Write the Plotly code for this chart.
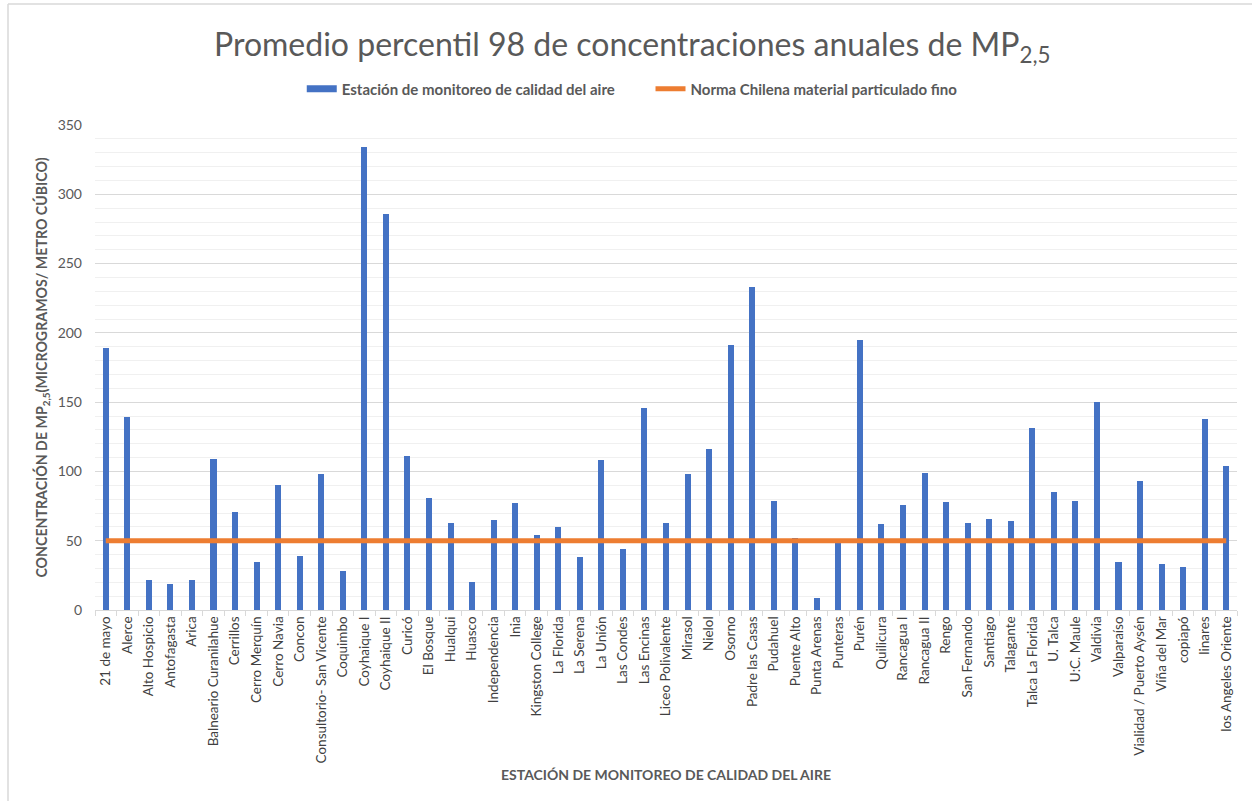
import plotly.graph_objects as go

# Estaciones de monitoreo (eje X)
estaciones = [
    "21 de mayo", "Alerce", "Alto Hospicio", "Antofagasta", "Arica",
    "Balneario Curanilahue", "Cerrillos", "Cerro Merquín", "Cerro Navia", "Concon",
    "Consultorio- San Vicente", "Coquimbo", "Coyhaique I", "Coyhaique II", "Curicó",
    "El Bosque", "Hualqui", "Huasco", "Independencia", "Inia",
    "Kingston College", "La Florida", "La Serena", "La Unión", "Las Condes",
    "Las Encinas", "Liceo Polivalente", "Mirasol", "Nielol", "Osorno",
    "Padre las Casas", "Pudahuel", "Puente Alto", "Punta Arenas", "Punteras",
    "Purén", "Quilicura", "Rancagua I", "Rancagua II", "Rengo",
    "San Fernando", "Santiago", "Talagante", "Talca La Florida", "U. Talca",
    "U:C. Maule", "Valdivia", "Valparaíso", "Vialidad / Puerto Aysén", "Viña del Mar",
    "copiapó", "linares", "los Angeles Oriente",
]

# Promedio percentil 98 de MP2,5 por estación
percentil_98 = [
    189, 139, 22, 19, 22,
    109, 71, 35, 90, 39,
    98, 28, 334, 286, 111,
    81, 63, 20, 65, 77,
    54, 60, 38, 108, 44,
    146, 63, 98, 116, 191,
    233, 79, 52, 9, 49,
    195, 62, 76, 99, 78,
    63, 66, 64, 131, 85,
    79, 150, 35, 93, 33,
    31, 138, 104,
]

# Norma chilena para material particulado fino
NORMA_CHILENA = 50
norma = [NORMA_CHILENA] * len(estaciones)

y_ticks = [0, 50, 100, 150, 200, 250, 300, 350]

AZUL = "#4472C4"
NARANJA = "#ED7D31"
GRIS_TEXTO = "#595959"
FUENTE = "Lato"

fig = go.Figure()

fig.add_trace(go.Bar(
    x=estaciones, y=percentil_98,
    marker=dict(color=AZUL, line=dict(width=0)),
    width=0.28,
    name="Estación de monitoreo de calidad del aire",
    legendgroup="estaciones",
    showlegend=False,
))

fig.add_trace(go.Scatter(
    x=estaciones, y=norma,
    mode="lines",
    line=dict(color=NARANJA, width=5),
    name="Norma Chilena material particulado fino",
    legendgroup="norma",
    showlegend=False,
))

# Entradas de leyenda con símbolo de barra ancha
fig.add_trace(go.Scatter(
    x=[None], y=[None], mode="lines",
    line=dict(color=AZUL, width=7),
    name="<b>Estación de monitoreo de calidad del aire</b>" + "&nbsp;" * 8,
    legendgroup="estaciones",
))
fig.add_trace(go.Scatter(
    x=[None], y=[None], mode="lines",
    line=dict(color=NARANJA, width=5),
    name="<b>Norma Chilena material particulado fino</b>",
    legendgroup="norma",
))

fig.update_layout(
    width=1252, height=801,
    margin=dict(l=95, r=15, t=125, b=191, autoexpand=False),
    paper_bgcolor="white",
    plot_bgcolor="white",
    font=dict(family=FUENTE, color=GRIS_TEXTO),
    bargap=0,
    title=dict(
        text="Promedio percentil 98 de concentraciones anuales de MP<sub>2,5</sub>",
        font=dict(family=FUENTE, size=32, color=GRIS_TEXTO),
        x=0.505, xanchor="center", xref="container",
        y=1 - 45 / 801, yanchor="middle", yref="container",
    ),
    legend=dict(
        orientation="h",
        x=0.505, xanchor="center", xref="container",
        y=1 - 89 / 801, yanchor="middle", yref="container",
        font=dict(family=FUENTE, size=15, color=GRIS_TEXTO),
        itemwidth=30,
        tracegroupgap=0,
    ),
    xaxis=dict(
        type="category",
        range=[-0.5, len(estaciones) - 0.5],
        tickangle=-90,
        tickfont=dict(family=FUENTE, size=13.5, color="#404040"),
        showline=True, linecolor="#d9d9d9", linewidth=1,
        ticks="outside", tickson="boundaries", ticklen=5, tickcolor="#d9d9d9",
        showgrid=False,
        automargin=False,
        title=dict(
            text="<b>ESTACIÓN DE MONITOREO DE CALIDAD DEL AIRE</b>",
            font=dict(family=FUENTE, size=14, color=GRIS_TEXTO),
            standoff=7,
        ),
    ),
    yaxis=dict(
        range=[0, 350],
        tickvals=y_ticks,
        tickfont=dict(family=FUENTE, size=14, color=GRIS_TEXTO),
        showgrid=True, gridcolor="#d9d9d9", gridwidth=1,
        minor=dict(dtick=10, showgrid=True, gridcolor="#f0f0f0", gridwidth=1),
        zeroline=False,
        showline=False,
        ticks="",
        ticklabelstandoff=12,
        automargin=False,
        title=dict(
            text="<b>CONCENTRACIÓN DE MP<sub>2,5</sub>(MICROGRAMOS/ METRO CÚBICO)</b>",
            font=dict(family=FUENTE, size=14.2, color=GRIS_TEXTO),
            standoff=6,
        ),
    ),
)

# Borde del área del gráfico (superior e izquierdo)
fig.add_shape(type="line", xref="paper", yref="paper",
              x0=(8 - 95) / 1142, x1=(1252 - 95) / 1142,
              y0=(610 - 4) / 485, y1=(610 - 4) / 485,
              line=dict(color="#d9d9d9", width=1.5))
fig.add_shape(type="line", xref="paper", yref="paper",
              x0=(8 - 95) / 1142, x1=(8 - 95) / 1142,
              y0=(610 - 801) / 485, y1=(610 - 4) / 485,
              line=dict(color="#d9d9d9", width=1.5))

fig.write_html("out.html")
